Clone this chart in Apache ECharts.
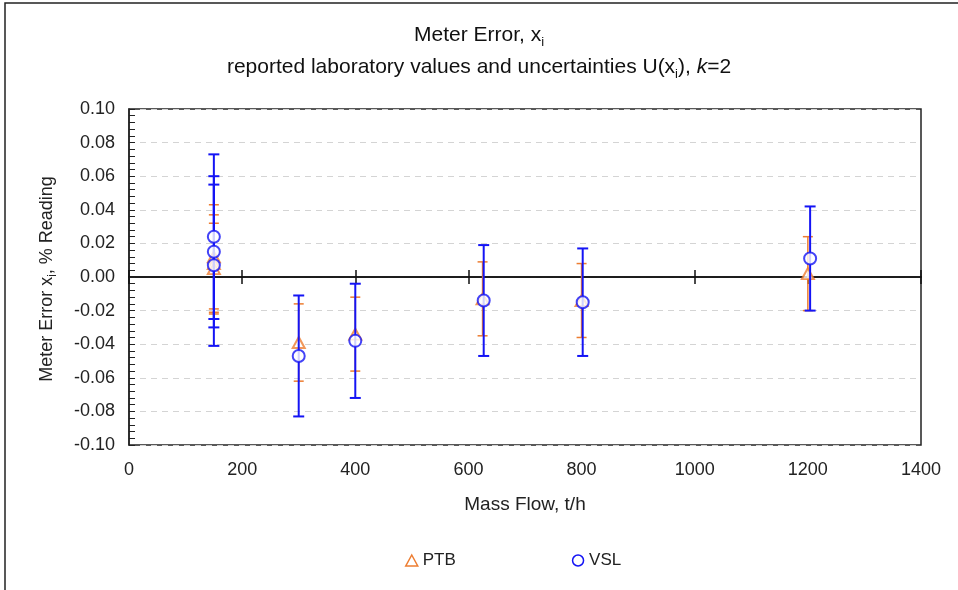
<!DOCTYPE html>
<html><head><meta charset="utf-8">
<script src="https://cdn.jsdelivr.net/npm/echarts@6/dist/echarts.min.js"></script>
<style>html,body{margin:0;padding:0;background:#fff}#c{width:958px;height:590px}</style>
</head><body><div id="c"></div>
<script>
// Data
const ptbFlow = [150, 150, 150, 300, 400, 625, 800, 1200];
const ptbError = [0.012, 0.008, 0.005, -0.039, -0.034, -0.013, -0.014, 0.002];
const ptbU = [0.031, 0.029, 0.027, 0.023, 0.022, 0.022, 0.022, 0.022];
const vslFlow = [150, 150, 150, 300, 400, 627, 802, 1204];
const vslError = [0.024, 0.015, 0.007, -0.047, -0.038, -0.014, -0.015, 0.011];
const vslU = [0.049, 0.045, 0.048, 0.036, 0.034, 0.033, 0.032, 0.031];
const xTicks = [0, 200, 400, 600, 800, 1000, 1200, 1400];
const yTicks = [-0.10, -0.08, -0.06, -0.04, -0.02, 0.00, 0.02, 0.04, 0.06, 0.08, 0.10];

const ORANGE = '#ED7D31', BLUE = '#1414F5';
const FONT = 'Liberation Sans, Arial, sans-serif';

function errData(xs, ys, us) { return xs.map((x, i) => [x, ys[i], us[i]]); }
function ptData(xs, ys) { return xs.map((x, i) => [x, ys[i]]); }

function errRender(color, width, cap) {
  return function (params, api) {
    const x = api.value(0), y = api.value(1), u = api.value(2);
    const top = api.coord([x, y + u]);
    const bot = api.coord([x, y - u]);
    const st = { stroke: color, lineWidth: width };
    return {
      type: 'group',
      children: [
        { type: 'line', shape: { x1: top[0], y1: top[1], x2: bot[0], y2: bot[1] }, style: st },
        { type: 'line', shape: { x1: top[0] - cap, y1: top[1], x2: top[0] + cap, y2: top[1] }, style: st },
        { type: 'line', shape: { x1: bot[0] - cap, y1: bot[1], x2: bot[0] + cap, y2: bot[1] }, style: st }
      ]
    };
  };
}

const chart = echarts.init(document.getElementById('c'), null, { renderer: 'canvas' });
const gridPos = { left: 129, top: 109, width: 792, height: 336 };
const xMin = xTicks[0], xMax = xTicks[xTicks.length - 1], xStep = xTicks[1] - xTicks[0];
const yMin = yTicks[0], yMax = yTicks[yTicks.length - 1], yStep = 0.02;

chart.setOption({
  backgroundColor: '#fff',
  animation: false,
  graphic: [
    { type: 'rect', shape: { x: 5, y: 3, width: 1200, height: 1200 }, style: { fill: 'none', stroke: '#222', lineWidth: 1.5 }, silent: true },
    {
      type: 'text', left: 'center', top: 25,
      style: {
        text: '{a|Meter Error, x}{s|i}',
        rich: { a: { fontSize: 21, fontFamily: FONT, fill: '#111' }, s: { fontSize: 13, fontFamily: FONT, fill: '#111', padding: [13, 0, 0, 0] } }
      }
    },
    {
      type: 'text', left: 'center', top: 57,
      style: {
        text: '{a|reported laboratory values and uncertainties U(x}{s|i}{a|), }{k|k}{a|=2}',
        rich: {
          a: { fontSize: 21, fontFamily: FONT, fill: '#111' },
          s: { fontSize: 13, fontFamily: FONT, fill: '#111', padding: [13, 0, 0, 0] },
          k: { fontSize: 21, fontFamily: FONT, fill: '#111', fontStyle: 'italic' }
        }
      }
    },
    {
      type: 'text', x: 47, y: 279, rotation: Math.PI / 2,
      style: {
        text: '{a|Meter Error x}{s|i}{a|, % Reading}',
        align: 'center', verticalAlign: 'middle',
        rich: { a: { fontSize: 18, fontFamily: FONT, fill: '#222' }, s: { fontSize: 12, fontFamily: FONT, fill: '#222', padding: [11, 0, 0, 0] } }
      }
    }
  ],
  grid: [
    Object.assign({ show: true, borderColor: '#222', borderWidth: 1.5, backgroundColor: 'transparent' }, gridPos),
    Object.assign({ show: false }, gridPos)
  ],
  legend: {
    bottom: 16, left: 400, itemGap: 116, itemWidth: 12, itemHeight: 11,
    textStyle: { fontSize: 17, fontFamily: FONT, color: '#222' },
    data: [
      { name: 'PTB', icon: 'path://M6,0 L12,11 L0,11 Z', itemStyle: { color: 'transparent', borderColor: ORANGE, borderWidth: 1.5 } },
      { name: 'VSL', icon: 'circle', itemStyle: { color: 'transparent', borderColor: BLUE, borderWidth: 1.5 } }
    ]
  },
  xAxis: [
    {
      gridIndex: 0, type: 'value', min: xMin, max: xMax, interval: xStep, position: 'bottom',
      axisLine: { show: false, onZero: false }, axisTick: { show: false }, splitLine: { show: false },
      axisLabel: { fontSize: 18, fontFamily: FONT, color: '#222', margin: 16, formatter: v => String(v) },
      name: 'Mass Flow, t/h', nameLocation: 'middle', nameGap: 50,
      nameTextStyle: { fontSize: 19, fontFamily: FONT, color: '#222' }
    },
    {
      gridIndex: 1, type: 'value', min: xMin, max: xMax, interval: xStep, position: 'bottom',
      axisLine: { show: true, onZero: true, onZeroAxisIndex: 1, lineStyle: { color: '#111', width: 1.5 } },
      axisTick: { show: true, length: 7, inside: false, lineStyle: { color: '#111', width: 1.5 } },
      axisLabel: { show: false }, splitLine: { show: false }
    },
    {
      gridIndex: 1, type: 'value', min: xMin, max: xMax, interval: xStep, position: 'top',
      axisLine: { show: true, onZero: true, onZeroAxisIndex: 1, lineStyle: { color: '#111', width: 1.5 } },
      axisTick: { show: true, length: 7, inside: false, lineStyle: { color: '#111', width: 1.5 } },
      axisLabel: { show: false }, splitLine: { show: false }
    }
  ],
  yAxis: [
    {
      gridIndex: 0, type: 'value', min: yMin, max: yMax, interval: yStep,
      axisLine: { show: true, onZero: false, lineStyle: { color: '#222', width: 1.5 } },
      axisTick: { show: true, inside: true, length: 6, lineStyle: { color: '#222' } },
      minorTick: { show: true, splitNumber: 5, length: 6, lineStyle: { color: '#222' } },
      axisLabel: { fontSize: 18, fontFamily: FONT, color: '#222', margin: 14, formatter: v => v.toFixed(2) },
      splitLine: { show: true, lineStyle: { color: '#d4d4d4', type: [6, 5], width: 1 } }
    },
    {
      gridIndex: 1, type: 'value', min: yMin, max: yMax, interval: yStep, show: false
    }
  ],
  series: [
    {
      name: 'PTB', type: 'custom', xAxisIndex: 0, yAxisIndex: 0, z: 3,
      renderItem: errRender(ORANGE, 1.5, 5), encode: { x: 0, y: 1 },
      data: errData(ptbFlow, ptbError, ptbU), silent: true
    },
    {
      name: 'PTB', type: 'scatter', xAxisIndex: 0, yAxisIndex: 0, z: 4,
      symbol: 'emptyTriangle', symbolSize: [12, 11],
      itemStyle: { color: ORANGE, borderColor: ORANGE, borderWidth: 1.5 },
      data: ptData(ptbFlow, ptbError)
    },
    {
      name: 'VSL', type: 'custom', xAxisIndex: 0, yAxisIndex: 0, z: 5,
      renderItem: errRender(BLUE, 2, 5.5), encode: { x: 0, y: 1 },
      data: errData(vslFlow, vslError, vslU), silent: true
    },
    {
      name: 'VSL', type: 'scatter', xAxisIndex: 0, yAxisIndex: 0, z: 6,
      symbol: 'emptyCircle', symbolSize: 12,
      itemStyle: { color: BLUE, borderColor: BLUE, borderWidth: 1.5 },
      data: ptData(vslFlow, vslError)
    }
  ]
});
</script></body></html>
